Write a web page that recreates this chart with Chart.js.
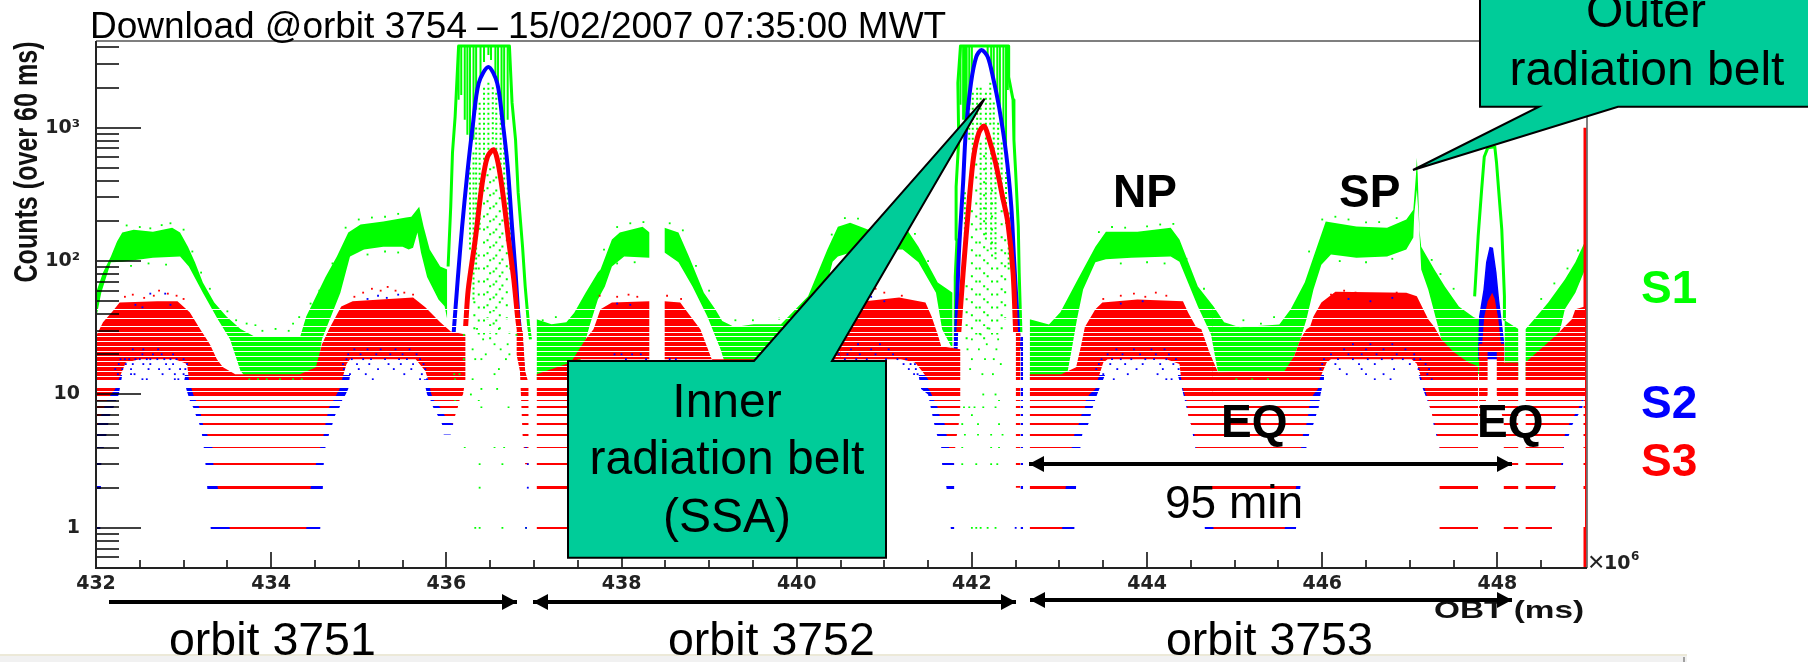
<!DOCTYPE html>
<html>
<head>
<meta charset="utf-8">
<title>Download @orbit 3754</title>
<script src="https://cdn.jsdelivr.net/npm/chart.js@4/dist/chart.umd.min.js"></script>
<style>
  html, body { margin: 0; padding: 0; background: #fff; }
  canvas { display: block; }
</style>
</head>
<body>
<canvas id="chart" width="1808" height="662"></canvas>
<script>
// axis ticks (OBT in units of 10^6 ms, counts over 60 ms)
const xLabelTicks = [432, 434, 436, 438, 440, 442, 444, 446, 448];
const xMinorTicks = [432.5, 433, 433.5, 434.5, 435, 435.5, 436.5, 437, 437.5, 438.5, 439, 439.5, 440.5, 441, 441.5,
  442.5, 443, 443.5, 444.5, 445, 445.5, 446.5, 447, 447.5, 448.5];
const yLabelTicks = [1, 10, 100, 1000];
const yLabelText = { 1: '1', 10: '10', 100: '10²', 1000: '10³' };
const yMinorTicks = [0.6, 0.7, 0.8, 0.9, 2, 3, 4, 5, 6, 7, 8, 9, 20, 30, 40, 50, 60, 70, 80, 90,
  200, 300, 400, 500, 600, 700, 800, 900, 2000, 3000, 4000];

// counts are integers, so the low part of the plot falls on separate rows
const countRows = [1, 2, 3, 4, 5, 6, 7, 8, 9, 10, 11, 13, 14.2, 15.5, 16.9, 18.4, 20, 21.8, 23.8, 25.9, 28.2, 30.5, 34, 40, 47];

// S1 envelopes, orbit by orbit
const s1Upper1 = [[432, 58], [432.08, 82], [432.17, 108], [432.24, 140], [432.3, 164], [432.43, 172], [432.65, 166], [432.87, 178], [432.96, 164], [433.05, 128], [433.13, 98], [433.22, 69], [433.35, 49], [433.49, 38.5], [433.65, 31], [433.82, 27], [434.33, 27], [434.4, 38.5], [434.62, 76], [434.75, 108], [434.88, 164], [435.02, 188], [435.28, 198], [435.54, 212], [435.6, 215], [435.69, 256], [435.74, 182], [435.81, 122], [435.93, 91], [436.01, 86.5]];
const s1Lower1 = [[432, 36.6], [432.06, 58], [432.17, 98], [432.3, 99], [432.65, 106], [432.96, 108], [433.06, 91], [433.22, 58], [433.39, 36.6], [433.53, 25.9], [433.65, 15], [433.76, 12.3], [434.45, 12.3], [434.53, 15], [434.58, 25.9], [434.67, 36.6], [434.79, 58], [434.9, 108], [435.06, 122], [435.28, 128], [435.5, 128], [435.57, 122], [435.62, 126], [435.67, 164], [435.71, 116], [435.78, 76], [435.91, 51.6], [435.98, 45.8], [436.01, 36.6]];
const s1Upper2 = [[437.03, 36.6], [437.2, 33.6], [437.37, 34.8], [437.46, 41], [437.59, 58], [437.73, 82], [437.76, 86.5], [437.89, 145], [437.98, 164], [438.24, 181], [438.32, 164]];
const s1Lower2 = [[437.03, 12.3], [437.47, 12.3], [437.56, 21.8], [437.64, 33.5], [437.73, 51.6], [437.81, 64.6], [437.89, 91], [438.03, 108], [438.32, 106]];
const s1Upper3 = [[438.49, 178], [438.65, 164], [438.77, 108], [438.94, 58], [439.07, 43.5], [439.15, 35.6], [439.29, 32], [439.51, 33.6], [439.82, 33.6], [440.13, 54.6], [440.35, 122], [440.47, 181], [440.61, 194], [440.82, 172], [441.26, 172], [441.39, 128], [441.61, 69], [441.78, 58]];
const s1Lower3 = [[438.49, 116], [438.65, 98], [438.81, 64.6], [438.98, 38.5], [439.13, 21.8], [439.25, 12.3], [440.05, 12.3], [440.16, 31], [440.3, 51.6], [440.41, 99], [440.47, 108], [440.73, 122], [441.21, 122], [441.39, 98], [441.59, 58], [441.66, 30.8], [441.78, 21.8]];
const s1Upper4 = [[442.66, 36.6], [442.88, 33.5], [443.01, 41.3], [443.19, 69], [443.41, 128], [443.53, 166], [443.89, 166], [444.27, 178], [444.37, 145], [444.58, 64.6], [444.76, 45.7], [444.88, 34.8], [445.06, 31.9], [445.51, 33.5], [445.64, 43.5], [445.8, 69], [445.94, 128], [446.04, 198], [446.39, 182], [446.74, 178], [446.96, 205], [447.04, 243], [447.07, 444], [447.08, 596], [447.09, 444], [447.11, 172], [447.13, 128], [447.28, 86.5], [447.4, 64.6], [447.56, 45.7], [447.73, 38], [447.79, 36.6]];
const s1Lower4 = [[442.66, 12.3], [443.07, 12.3], [443.14, 21.8], [443.2, 36.6], [443.27, 61.3], [443.41, 98], [443.53, 103], [443.82, 106], [444.27, 108], [444.37, 99], [444.58, 45.7], [444.73, 28.2], [444.81, 14.7], [444.94, 12.3], [445.57, 12.3], [445.68, 19.4], [445.75, 25.9], [445.82, 36.6], [445.9, 61.3], [445.99, 94], [446.1, 112], [446.39, 106], [446.74, 108], [446.96, 122], [447.04, 150], [447.05, 222], [447.08, 343], [447.1, 222], [447.13, 86.5], [447.21, 61.3], [447.27, 43.5], [447.36, 25.9], [447.5, 18.4], [447.67, 15], [447.79, 14.2]];
const s1Upper5 = [[448.08, 36], [448.24, 31]];
const s1Lower5 = [[448.08, 13], [448.24, 13]];
const s1Upper6 = [[448.32, 30.8], [448.42, 36.6], [448.58, 49], [448.77, 72.8], [448.89, 98], [449, 140]];
const s1Lower6 = [[448.32, 12.3], [448.59, 14.2], [448.67, 23.8], [448.73, 33.5], [448.77, 43.5], [448.89, 58], [449, 86.5]];

// S1 outline around the three passages through the belts
const s1Edge1 = [[436.02, 91], [436.05, 256], [436.07, 649], [436.1, 1207], [436.14, 4100], [436.72, 4100], [436.75, 1540], [436.79, 811], [436.82, 326], [436.87, 128], [436.9, 64.6], [436.94, 32.4], [436.96, 25.9]];
const s1Edge2 = [[441.81, 25.9], [441.81, 76.5], [441.83, 145], [441.82, 361], [441.85, 811], [441.84, 2167], [441.87, 4100], [442.42, 4100], [442.42, 2400], [442.47, 1617], [442.48, 811], [442.5, 460], [442.53, 181], [442.54, 82], [442.56, 29]];
const s1Edge3 = [[447.74, 54.4], [447.78, 153], [447.82, 343], [447.85, 606], [447.89, 706], [447.97, 720], [447.99, 546], [448.02, 304], [448.05, 172], [448.08, 54.4], [448.08, 36.6]];

// S1 columns that saturate under the peaks: x, low, high
const s1Comb = [[436.14, 1617, 4100], [436.17, 1762, 4100], [436.21, 1146, 4100], [436.24, 885, 4100], [436.27, 575, 4100], [436.31, 811, 4100], [436.34, 1361, 4100], [436.39, 2280, 4100], [436.43, 3110, 4100], [436.48, 3510, 4100], [436.51, 3220, 4100], [436.56, 2490, 4100], [436.59, 1920, 4100], [436.63, 1361, 4100], [436.66, 1052, 4100], [436.7, 1146, 4100],
  [441.87, 1483, 4100], [441.9, 1146, 4100], [441.92, 811, 4100], [441.94, 1361, 4100], [441.97, 1483, 4100], [442, 2490, 4100], [442.18, 3510, 4100], [442.22, 2950, 4100], [442.25, 2280, 4100], [442.29, 1617, 4100], [442.32, 1265, 4100], [442.36, 964, 4100], [442.39, 683, 4100], [442.41, 1920, 4100]];
const s1DenseColumns = [[436.27, 122, 527], [436.31, 51.6, 683], [436.34, 86.5, 1052], [436.38, 172, 1617], [436.43, 484, 2100], [436.48, 683, 2280], [436.53, 750, 2100], [436.57, 683, 1920], [436.62, 484, 1617], [436.66, 289, 964], [436.7, 145, 484], [436.73, 86.5, 243],
  [441.92, 103, 343], [441.97, 811, 1617], [442.01, 484, 1920], [442.06, 964, 2100], [442.1, 1052, 2100], [442.16, 1052, 1920], [442.21, 1052, 2280], [442.25, 630, 1617], [442.3, 484, 1146], [442.34, 289, 811], [442.39, 190, 484], [442.42, 86.5, 243], [442.1, 172, 811], [442.16, 145, 885], [442.22, 122, 750], [442.27, 103, 527]];
const s1SparseColumns = [[436.43, 28.2, 343], [436.47, 36.6, 484], [436.5, 25.9, 527], [436.54, 33.5, 527], [436.57, 28.2, 444], [436.61, 30.8, 343], [436.64, 51.6, 243], [436.37, 28.2, 122], [436.32, 30.8, 51.6], [436.69, 36.6, 145],
  [442.05, 28.2, 575], [442.09, 28.2, 145], [442.14, 25.9, 683], [442.18, 30.8, 122], [442.23, 28.2, 408], [442.29, 28.2, 103], [442.34, 30.8, 289], [442.38, 36.6, 172], [442, 30.8, 243], [441.94, 25.9, 72.8]];
const s1Dots = [[433.6, 36], [433.72, 34], [433.82, 33], [433.9, 30], [434.05, 31], [434.2, 30], [434.25, 34], [434.32, 38], [433.5, 42], [437.1, 36], [437.25, 38], [439.3, 36], [439.5, 36], [439.8, 37], [445.1, 36], [445.3, 34], [445.45, 38],
  [432.35, 185], [432.5, 180], [432.62, 176], [432.75, 186], [432.85, 192], [433, 172], [432.4, 92], [432.6, 96], [432.8, 94], [433.1, 118], [433.2, 82], [433.3, 62],
  [434.7, 96], [434.85, 178], [435, 205], [435.15, 212], [435.3, 215], [435.45, 226], [435.1, 112], [435.3, 118], [435.45, 116], [434.55, 60], [434.45, 48],
  [437.8, 122], [437.95, 180], [438.1, 192], [438.25, 196], [438.55, 192], [438.7, 170], [438.85, 92], [439, 60], [437.95, 96], [438.15, 98],
  [440.4, 158], [440.55, 210], [440.7, 208], [441, 185], [441.2, 186], [441.35, 160], [441.5, 100], [440.9, 112], [441.1, 114],
  [443.45, 165], [443.6, 180], [443.75, 178], [444, 182], [444.15, 188], [444.3, 190], [444.45, 104], [444.65, 62], [443.7, 96], [444, 98], [444.2, 96],
  [445.85, 118], [446, 205], [446.15, 215], [446.3, 205], [446.5, 195], [446.65, 196], [446.85, 210], [446.2, 100], [446.5, 98], [446.8, 104], [447.25, 102], [447.35, 80], [447.5, 62], [447.3, 50], [447.45, 32],
  [448.5, 52], [448.65, 68], [448.8, 88], [448.92, 120], [448.55, 25], [448.7, 42], [448.85, 56],
  [433.75, 13], [433.85, 13], [433.95, 13], [434.1, 13], [434.25, 13], [434.35, 13], [445.02, 13], [445.2, 13], [445.38, 13],
  [436.2, 28], [436.35, 31], [436.5, 29], [436.6, 31], [436.72, 29], [436.8, 28], [436.42, 25.9], [436.55, 23.8], [436.7, 23.8], [436.3, 21.8], [436.45, 20], [436.62, 21.8], [436.72, 20], [436.2, 18.4], [436.33, 18.4], [436.4, 18.4], [436.68, 18.4], [436.09, 14.2], [436.15, 14.2], [436.55, 14.2], [436.6, 15.5], [436.1, 13], [436.3, 13], [436.4, 11], [436.58, 11], [436.28, 10], [436.1, 9], [436.37, 9], [436.4, 8], [436.71, 8], [436.21, 4], [436.55, 4], [436.66, 4], [436.38, 3], [436.64, 3], [436.38, 2], [436.33, 1], [436.38, 1], [436.64, 1], [436.91, 1],
  [441.89, 4], [442.22, 4], [442.31, 4], [441.92, 5], [442.07, 5], [442.22, 5], [442.35, 5], [441.89, 6], [442.07, 6], [442.31, 6], [442, 7], [441.91, 8], [441.97, 8], [442.03, 8], [442.13, 8], [442.27, 8], [442.31, 9], [442.13, 10], [442.27, 10], [441.89, 3], [442.05, 3], [442.22, 3], [442.29, 3], [442, 1], [442.05, 1], [442.1, 1], [442.18, 1], [442.27, 1],
  [442, 25.9], [442.1, 28.2], [442.2, 31.2], [442.3, 25.9], [441.95, 21.8], [442.08, 21.8], [442.17, 23.8], [442.28, 21.8], [442, 18.4], [442.15, 18.4], [442.25, 18.4], [442.33, 16.9], [441.98, 15.5], [442.12, 14.2], [442.24, 14.2]];

// S2 peaks
const s2Peak1 = [[436.08, 27], [436.13, 72.8], [436.18, 181], [436.24, 460], [436.3, 1016], [436.37, 2167], [436.48, 2857], [436.58, 2167], [436.64, 1146], [436.7, 510], [436.75, 181], [436.79, 82], [436.82, 41.3], [436.85, 25.9], [436.87, 16]];
const s2Peak2 = [[441.81, 18], [441.85, 108], [441.9, 387], [441.93, 916], [441.99, 2167], [442.05, 3400], [442.11, 3826], [442.18, 3400], [442.24, 2400], [442.31, 1430], [442.39, 649], [442.45, 256], [442.48, 108], [442.51, 49], [442.54, 22]];
const s2BlobUpper = [[447.78, 23.8], [447.79, 38.5], [447.84, 61.3], [447.87, 98], [447.91, 128], [447.95, 126], [447.99, 82], [448.02, 51.6], [448.07, 27.3], [448.08, 23.8]];
const s2BlobLower = [[447.78, 18.4], [448.08, 18.4]];

// S2 rows that reach a little past S3 at the edges of each trough
const s2Trough1Upper = [[433.01, 14], [434.9, 14]];
const s2Trough1Lower = [[433.01, 14], [433.03, 11], [433.05, 10], [433.07, 9], [433.11, 8], [433.14, 7], [433.18, 6], [433.21, 5], [433.23, 4], [433.25, 3], [433.27, 2], [433.31, 0.98], [434.56, 0.98], [434.59, 2], [434.6, 3], [434.62, 4], [434.66, 5], [434.7, 6], [434.73, 7], [434.78, 8], [434.81, 9], [434.85, 10], [434.88, 11], [434.9, 14]];
const s2StartUpper = [[432, 14], [432.3, 14]];
const s2StartLower = [[432, 0.98], [432.05, 0.98], [432.06, 3], [432.09, 4], [432.12, 5], [432.14, 6], [432.16, 7], [432.2, 8], [432.23, 9], [432.26, 10], [432.3, 14]];
const s2Hump2Upper = [[435.74, 13], [436.08, 13]];
const s2Hump2Lower = [[435.74, 13], [435.78, 10], [435.82, 9], [435.85, 8], [435.9, 7], [435.95, 6], [435.97, 5], [436.05, 5], [436.08, 6]];
const s2Trough2Upper = [[441.39, 14], [441.8, 14]];
const s2Trough2Lower = [[441.39, 14], [441.42, 11], [441.5, 10], [441.53, 8], [441.57, 6], [441.6, 5], [441.65, 4], [441.66, 3], [441.71, 2], [441.76, 0.98], [441.8, 0.98]];
const s2FootUpper = [[442.555, 27], [442.585, 27]];
const s2FootLower = [[442.555, 0.98], [442.585, 0.98]];
const s2Rise3Upper = [[443, 14], [443.52, 14]];
const s2Rise3Lower = [[443, 0.98], [443.17, 0.98], [443.2, 3], [443.24, 4], [443.26, 5], [443.33, 6], [443.38, 8], [443.43, 10], [443.52, 14]];
const s2Trough3Upper = [[444.35, 14], [446.02, 14]];
const s2Trough3Lower = [[444.35, 14], [444.4, 11], [444.45, 8], [444.5, 6], [444.55, 4], [444.58, 3], [444.62, 2], [444.66, 0.98], [445.7, 0.98], [445.75, 2], [445.78, 3], [445.82, 4], [445.85, 5], [445.9, 6], [445.93, 7], [445.96, 8], [445.98, 10], [446.02, 13]];
const s2Fall4Upper = [[447.1, 14], [447.62, 14]];
const s2Fall4Lower = [[447.1, 14], [447.15, 11], [447.2, 9], [447.23, 8], [447.26, 7], [447.27, 6], [447.3, 5], [447.34, 4], [447.36, 3], [447.36, 0.98], [447.62, 0.98]];
const s2EndUpper = [[448.58, 14], [449, 14]];
const s2EndLower = [[448.58, 0.98], [448.62, 0.98], [448.66, 2], [448.75, 3], [448.76, 4], [448.82, 5], [448.86, 6], [448.92, 7], [448.97, 8], [449, 10]];

// sparse S2 counts: one row each, then the x where a point shows
const s2RowDots = [
  [23.8, [440.5, 440.7, 440.95, 446.35, 446.55, 446.8]],
  [21.8, [432.42, 432.54, 432.71, 434.95, 435.1, 435.25, 435.42, 435.58, 440.45, 440.62, 440.85, 441.05, 443.65, 443.85, 444.05, 444.2, 446.25, 446.5, 446.7, 446.95]],
  [20, [432.53, 432.65, 432.75, 432.88, 434.88, 435.02, 435.2, 435.36, 435.5, 435.66, 437.92, 438, 438.12, 438.22, 440.48, 440.58, 440.72, 440.9, 441.1, 443.55, 443.72, 443.92, 444.1, 444.25, 446.1, 446.3, 446.45, 446.62, 446.85, 447.05]],
  [18.4, [432.28, 432.33, 432.38, 432.45, 432.5, 432.58, 432.62, 432.7, 432.78, 432.85, 432.92, 433, 434.86, 434.92, 435.05, 435.14, 435.3, 435.46, 435.55, 435.7, 438.05, 438.28, 438.55, 438.62, 440.42, 440.55, 440.68, 440.8, 441.02, 441.15, 441.25, 443.48, 443.6, 443.7, 443.82, 443.98, 444.08, 444.22, 444.33, 446.02, 446.18, 446.35, 446.52, 446.68, 446.8, 446.92, 447.05, 447.12]],
  [16.9, [432.26, 432.34, 432.42, 432.54, 432.62, 432.8, 432.88, 433.04, 434.82, 434.98, 435.12, 435.34, 435.48, 435.62, 435.74, 441.22, 441.3, 441.35, 443.45, 443.58, 443.75, 443.95, 444.15, 444.3, 446, 446.15, 446.42, 446.6, 447, 447.18]],
  [15.5, [432.22, 432.3, 432.4, 432.6, 432.72, 432.84, 432.96, 433.02, 434.83, 435, 435.22, 435.4, 435.6, 435.76, 441.28, 441.36, 443.42, 443.66, 443.88, 444.18, 444.36, 445.98, 446.2, 446.45, 446.82, 447.1, 447.22]],
  [14.2, [432.25, 432.4, 432.44, 432.76, 432.9, 433, 434.9, 435.08, 435.52, 435.72, 441.38, 441.34, 443.5, 443.78, 444.12, 446.28, 446.5, 446.7, 447.2]],
  [13, [432.53, 432.58, 432.9, 432.94, 433.02, 435.16, 435.7, 435.78, 441.42, 444.22, 444.28, 443.62, 446.6, 446.78, 447.25]],
  [4, [436.91]], [3, [436.93]], [2, [436.93]], [1, [436.91, 442.5]]
];
const s2Dots = [[432.62, 57], [432.79, 57], [432.45, 47], [432.53, 45], [432.85, 47], [435.1, 52], [435.22, 55], [435.32, 53], [435.45, 56], [437.95, 48], [438.1, 47], [440.85, 54], [441, 50], [443.7, 48], [443.95, 50], [446.3, 52], [446.55, 50], [446.8, 53]];

// S3 peaks
const s3Peak1 = [[436.22, 32.4], [436.25, 61.3], [436.33, 145], [436.41, 387], [436.47, 606], [436.54, 683], [436.59, 546], [436.65, 304], [436.71, 145], [436.77, 72.8], [436.82, 34.8], [436.85, 25.9]];
const s3Peak2 = [[441.85, 29], [441.9, 82], [441.97, 289], [442.02, 606], [442.08, 916], [442.14, 1030], [442.19, 850], [442.27, 546], [442.35, 304], [442.41, 195], [442.47, 82], [442.5, 29]];

// S3 envelopes
const s3Upper1 = [[432, 27.3], [432.08, 34.8], [432.19, 42], [432.27, 49], [432.7, 49.9], [432.93, 50], [433.07, 41.3], [433.19, 30.8], [433.3, 23.8], [433.38, 18.4], [433.45, 16], [433.59, 14.2], [434.33, 14.2], [434.51, 16], [434.58, 23.8], [434.66, 30.8], [434.8, 45.7], [434.93, 50], [435.62, 53.4], [435.76, 45], [435.93, 34.8], [436.05, 29.7], [436.22, 28.2]];
const s3Lower1 = [[432, 5.5], [432.13, 9.2], [432.22, 11], [432.26, 13], [432.34, 17.4], [432.5, 18.4], [432.9, 18.4], [433.04, 16.9], [433.06, 13], [433.11, 10], [433.18, 8], [433.22, 6], [433.27, 5], [433.33, 4], [433.34, 3], [433.39, 2], [433.53, 0.98], [434.4, 0.98], [434.45, 2], [434.51, 3], [434.56, 4], [434.6, 5], [434.62, 6], [434.66, 8], [434.71, 9], [434.78, 11], [434.81, 13], [434.86, 16.9], [434.9, 18.4], [435.65, 18.4], [435.76, 15], [435.79, 13], [435.83, 10], [435.86, 9], [435.93, 8], [435.98, 7], [436.07, 6], [436.13, 8], [436.15, 9], [436.19, 10], [436.22, 13]];
const s3FootUpper1 = [[436.8, 30], [436.87, 30], [436.9, 15], [436.94, 12]];
const s3FootLower1 = [[436.8, 20], [436.84, 15], [436.87, 5], [436.9, 3], [436.94, 3]];
const s3Upper2 = [[437.03, 14.2], [437.42, 17.4], [437.59, 25.9], [437.68, 30.8], [437.76, 43.5], [437.89, 49], [438.32, 50]];
const s3Lower2 = [[437.03, 0.98], [437.45, 0.98], [437.5, 18.4], [438.32, 18.4]];
const s3Upper3 = [[438.49, 50], [438.67, 49], [438.77, 40], [438.9, 30.8], [439.03, 18.4], [439.13, 15], [440.05, 15], [440.39, 23.8], [440.64, 38.5], [440.78, 50], [441.17, 53.4], [441.47, 49], [441.54, 38.5], [441.61, 28.2], [441.65, 23], [441.87, 21.8]];
const s3Lower3 = [[438.49, 18.4], [441.19, 18.4], [441.35, 17.4], [441.43, 15], [441.5, 13], [441.51, 11], [441.54, 10], [441.57, 9], [441.61, 8], [441.63, 7], [441.69, 6], [441.71, 5], [441.74, 4], [441.79, 3], [441.82, 4.6], [441.85, 6], [441.87, 8]];
const s3FootUpper2 = [[442.5, 29], [442.555, 29]];
const s3FootLower2 = [[442.5, 2], [442.555, 2]];
const s3Upper4 = [[442.66, 14.2], [443.02, 14.2], [443.19, 16], [443.25, 23.8], [443.29, 32], [443.41, 43.5], [443.49, 49], [443.89, 51.6], [444.41, 50], [444.47, 41], [444.56, 32], [444.62, 30.8], [444.71, 20.8], [444.81, 14.7], [445.57, 15], [445.68, 19.4], [445.75, 25.9], [445.82, 30.8], [445.86, 32], [445.9, 38.5], [445.99, 49], [446.15, 59], [446.96, 58], [447.08, 54.4], [447.21, 36.6], [447.28, 32], [447.36, 25.9], [447.5, 20.8], [447.67, 17.4], [447.78, 16.3]];
const s3Lower4 = [[442.66, 0.98], [443.03, 0.98], [443.07, 2], [443.12, 3], [443.14, 4], [443.17, 5], [443.22, 6], [443.25, 7], [443.29, 8], [443.3, 9], [443.34, 10], [443.41, 11], [443.44, 13], [443.5, 17.4], [443.55, 18.4], [444.22, 18.4], [444.37, 16.9], [444.39, 13], [444.41, 11], [444.45, 9], [444.47, 7], [444.5, 6], [444.54, 5], [444.56, 4], [444.58, 3], [444.67, 2], [444.76, 0.98], [445.57, 0.98], [445.7, 2], [445.73, 3], [445.76, 4], [445.78, 5], [445.82, 6], [445.84, 7], [445.85, 8], [445.86, 9], [445.9, 10], [445.95, 11], [445.97, 13], [446.05, 17.4], [446.1, 18.4], [447.02, 18.4], [447.08, 17], [447.17, 11], [447.21, 9], [447.23, 8], [447.27, 6.5], [447.31, 5], [447.34, 4], [447.34, 0.98], [447.78, 0.98]];
const s3CapUpper = [[447.82, 21], [447.85, 38.5], [447.89, 50], [447.94, 58], [447.97, 52], [448.01, 36.6], [448.05, 21]];
const s3CapLower = [[447.82, 21], [448.05, 21]];
const s3LegLeftUpper = [[447.79, 24], [447.89, 24]];
const s3LegLeftLower = [[447.79, 6], [447.89, 10]];
const s3LegRightUpper = [[447.99, 24], [448.08, 24]];
const s3LegRightLower = [[447.99, 10], [448.08, 6]];
const s3Upper5 = [[448.07, 17.4], [448.24, 17.4]];
const s3Lower5 = [[448.07, 0.98], [448.24, 0.98]];
const s3Upper6 = [[448.32, 17.4], [448.58, 24.6], [448.7, 29], [448.77, 32.4], [448.85, 36.6], [448.89, 43.5], [449, 45.7]];
const s3Lower6 = [[448.32, 0.98], [448.62, 0.98], [448.65, 2], [448.73, 3], [448.77, 5], [448.82, 6], [448.88, 7], [448.93, 8], [448.96, 9], [448.99, 10], [449, 13]];
const s3RightEdge = [[449, 0.5], [449, 1000]];
const s3Dots = [[432.33, 54], [432.42, 56], [432.55, 53], [432.66, 55], [432.72, 60], [432.82, 57], [432.92, 55], [433, 52], [434.95, 54], [435.05, 58], [435.15, 62], [435.25, 60], [435.33, 64], [435.42, 60], [435.52, 58], [435.62, 56], [437.75, 55], [437.95, 54], [438.08, 56], [438.18, 54], [438.52, 55], [438.68, 52], [440.6, 56], [440.75, 60], [440.9, 62], [441, 58], [441.2, 55], [443.5, 52], [443.7, 55], [443.85, 57], [443.98, 54], [444.1, 58], [444.22, 55], [446.1, 56], [446.25, 60], [446.38, 58], [446.5, 56], [446.68, 54], [446.85, 58]];

const green = '#00ff00';
const blue = '#0000ff';
const red = '#ff0000';
const calloutGreen = '#00cc99';
const sansFont = '"Liberation Sans", Arial, sans-serif';
const tickFont = '"DejaVu Sans", sans-serif';

const points = rows => rows.map(([x, y]) => ({ x, y }));
const columns = rows => rows.flatMap(([x, low, high]) => [{ x, y: low }, { x, y: high }, { x, y: null }]);
const rowPoints = rows => rows.flatMap(([y, xs]) => xs.map(x => ({ x, y })));

const datasets = [];

// lower edge plus an upper edge that fills down to it
function addBand(upper, lower, color, order) {
  datasets.push({ data: points(lower), order, borderWidth: 0, pointRadius: 0, fill: false });
  datasets.push({ data: points(upper), order, borderWidth: 0, pointRadius: 0, fill: '-1', backgroundColor: color });
}

function addLine(data, color, width, order, extra) {
  datasets.push(Object.assign({ data, order, borderColor: color, borderWidth: width, pointRadius: 0, fill: false, spanGaps: false }, extra));
}

function addDots(data, color, order) {
  datasets.push({ data, order, showLine: false, pointStyle: 'rect', pointRadius: 1.3, pointBackgroundColor: color, pointBorderWidth: 0 });
}

[[s1Upper1, s1Lower1], [s1Upper2, s1Lower2], [s1Upper3, s1Lower3], [s1Upper4, s1Lower4], [s1Upper5, s1Lower5], [s1Upper6, s1Lower6]]
  .forEach(([up, low]) => addBand(up, low, green, 6));
[s1Edge1, s1Edge2, s1Edge3].forEach(edge => addLine(points(edge), green, 3, 6));
addLine(columns(s1Comb), green, 2, 6);
addLine(columns(s1DenseColumns), green, 2, 6, { borderDash: [2, 3] });
addLine(columns(s1SparseColumns), green, 2, 6, { borderDash: [2, 11] });

[[s2Trough1Upper, s2Trough1Lower], [s2StartUpper, s2StartLower], [s2Hump2Upper, s2Hump2Lower], [s2Trough2Upper, s2Trough2Lower], [s2FootUpper, s2FootLower],
  [s2Rise3Upper, s2Rise3Lower], [s2Trough3Upper, s2Trough3Lower], [s2Fall4Upper, s2Fall4Lower], [s2EndUpper, s2EndLower], [s2BlobUpper, s2BlobLower]]
  .forEach(([up, low]) => addBand(up, low, blue, 5));
[s2Peak1, s2Peak2].forEach(peak => addLine(points(peak), blue, 4, 4, { tension: 0.3 }));

[[s3Upper1, s3Lower1], [s3FootUpper1, s3FootLower1], [s3Upper2, s3Lower2], [s3Upper3, s3Lower3], [s3FootUpper2, s3FootLower2], [s3Upper4, s3Lower4],
  [s3CapUpper, s3CapLower], [s3LegLeftUpper, s3LegLeftLower], [s3LegRightUpper, s3LegRightLower], [s3Upper5, s3Lower5], [s3Upper6, s3Lower6]]
  .forEach(([up, low]) => addBand(up, low, red, 3));
[s3Peak1, s3Peak2].forEach(peak => addLine(points(peak), red, 5, 2, { tension: 0.3 }));
addLine(points(s3RightEdge), red, 3, 2, { clip: false });

addDots(points(s1Dots), green, 1);
addDots(points(s3Dots), red, 1);
addDots(points(s2Dots).concat(rowPoints(s2RowDots)), blue, 0);

function text(ctx, str, x, y, font, color, align, stretch) {
  ctx.save();
  ctx.font = font;
  ctx.fillStyle = color || '#000';
  ctx.textAlign = align || 'left';
  ctx.textBaseline = 'alphabetic';
  ctx.translate(x, y);
  ctx.scale(stretch || 1, 1);
  ctx.fillText(str, 0, 0);
  ctx.restore();
}

function arrow(ctx, x1, x2, y, head) {
  ctx.strokeStyle = '#000';
  ctx.fillStyle = '#000';
  ctx.lineWidth = 4;
  ctx.beginPath();
  ctx.moveTo(x1, y);
  ctx.lineTo(x2, y);
  ctx.stroke();
  if (head !== 'left') {
    const tip = Math.max(x1, x2);
    ctx.beginPath();
    ctx.moveTo(tip, y);
    ctx.lineTo(tip - 15, y - 8);
    ctx.lineTo(tip - 15, y + 8);
    ctx.closePath();
    ctx.fill();
  }
  if (head !== 'right') {
    const tip = Math.min(x1, x2);
    ctx.beginPath();
    ctx.moveTo(tip, y);
    ctx.lineTo(tip + 15, y - 8);
    ctx.lineTo(tip + 15, y + 8);
    ctx.closePath();
    ctx.fill();
  }
}

function callout(ctx, path) {
  ctx.beginPath();
  path.forEach(([x, y], i) => (i ? ctx.lineTo(x, y) : ctx.moveTo(x, y)));
  ctx.closePath();
  ctx.fillStyle = calloutGreen;
  ctx.fill();
  ctx.strokeStyle = '#000';
  ctx.lineWidth = 2;
  ctx.stroke();
}

// the window strip along the bottom of the screenshot
const backgroundPlugin = {
  id: 'background',
  beforeDraw(chart) {
    const ctx = chart.ctx;
    ctx.fillStyle = '#f1f1f1';
    ctx.fillRect(0, 654, 1687, 8);
    ctx.fillStyle = '#ece9d8';
    ctx.fillRect(0, 654, 1687, 2);
    ctx.fillStyle = '#a0a0a0';
    ctx.fillRect(1683, 657, 2, 5);
  }
};

// ROOT style frame: ticks point into the plot, two lengths
const framePlugin = {
  id: 'frame',
  afterDraw(chart) {
    const ctx = chart.ctx;
    const { left, right, top, bottom } = chart.chartArea;
    const x = chart.scales.x;
    const y = chart.scales.y;

    ctx.save();
    ctx.strokeStyle = '#000';
    ctx.lineWidth = 1.5;
    const tick = (x1, y1, x2, y2) => {
      ctx.beginPath();
      ctx.moveTo(x1, y1);
      ctx.lineTo(x2, y2);
      ctx.stroke();
    };
    yMinorTicks.forEach(v => { const p = Math.round(y.getPixelForValue(v)); tick(left, p, left + 23, p); });
    yLabelTicks.forEach(v => { const p = Math.round(y.getPixelForValue(v)); tick(left, p, left + 45, p); });
    xMinorTicks.forEach(v => { const p = Math.round(x.getPixelForValue(v)); tick(p, bottom, p, bottom - 8); });
    xLabelTicks.forEach(v => { const p = Math.round(x.getPixelForValue(v)); tick(p, bottom, p, bottom - 16); });

    ctx.strokeStyle = '#555';
    ctx.lineWidth = 1.5;
    tick(left, top, right + 2, top);
    tick(right + 2, top, right + 2, bottom);
    ctx.strokeStyle = '#222';
    ctx.lineWidth = 2;
    tick(left, top, left, bottom + 1);
    tick(left, bottom, right + 2, bottom);
    ctx.restore();

    // axis captions
    ctx.save();
    ctx.translate(37, 162);
    ctx.rotate(-Math.PI / 2);
    text(ctx, 'Counts (over 60 ms)', 0, 0, 'bold 33px ' + sansFont, '#111', 'center', 0.76);
    ctx.restore();
    text(ctx, 'OBT (ms)', 1434, 618, 'bold 24px ' + sansFont, '#111', 'left', 1.39);
    text(ctx, '×', 1588, 571, '28px ' + sansFont, '#222');
    text(ctx, '10', 1604, 569, 'bold 19px ' + tickFont, '#222');
    text(ctx, '6', 1631, 560, 'bold 12px ' + tickFont, '#222');

    // annotations pasted over the plot
    ctx.save();
    text(ctx, 'Download @orbit 3754 – 15/02/2007 07:35:00 MWT', 90, 38, '37px ' + sansFont);

    callout(ctx, [[568, 361], [754, 361], [984.6, 98.7], [832, 361], [886, 361], [886, 557.7], [568, 557.7]]);
    text(ctx, 'Inner', 727, 417, '48px ' + sansFont, '#000', 'center');
    text(ctx, 'radiation belt', 727, 474, '48px ' + sansFont, '#000', 'center');
    text(ctx, '(SSA)', 727, 532, '48px ' + sansFont, '#000', 'center');

    callout(ctx, [[1480, -5], [1480, 106.7], [1539, 106.7], [1413, 170], [1618, 106.7], [1815, 106.7], [1815, -5]]);
    text(ctx, 'Outer', 1646, 27, '48px ' + sansFont, '#000', 'center');
    text(ctx, 'radiation belt', 1647, 85, '48px ' + sansFont, '#000', 'center');

    const bold = 'bold 46px ' + sansFont;
    text(ctx, 'NP', 1113, 207, bold);
    text(ctx, 'SP', 1339, 207, bold);
    text(ctx, 'EQ', 1221, 437, bold);
    text(ctx, 'EQ', 1477, 437, bold);
    text(ctx, 'S1', 1641, 303, bold, green);
    text(ctx, 'S2', 1641, 418, bold, blue);
    text(ctx, 'S3', 1641, 476, bold, red);

    arrow(ctx, 1029, 1512, 464, 'both');
    text(ctx, '95 min', 1165, 518, '46px ' + sansFont);
    arrow(ctx, 109, 517, 602, 'right');
    arrow(ctx, 533, 1016, 602, 'both');
    arrow(ctx, 1030, 1512, 600, 'both');
    text(ctx, 'orbit 3751', 169, 655, '46.5px ' + sansFont);
    text(ctx, 'orbit 3752', 668, 655, '46.5px ' + sansFont);
    text(ctx, 'orbit 3753', 1166, 655, '46.5px ' + sansFont);
    ctx.restore();
  }
};

new Chart(document.getElementById('chart'), {
  type: 'line',
  data: { datasets },
  plugins: [backgroundPlugin, framePlugin],
  options: {
    responsive: false,
    animation: false,
    events: [],
    layout: { padding: { top: 41, right: 223, left: 0, bottom: 0 } },
    plugins: { legend: { display: false }, title: { display: false }, tooltip: { enabled: false } },
    elements: { line: { borderJoinStyle: 'round' } },
    scales: {
      x: {
        type: 'linear',
        min: 432,
        max: 449,
        grid: { display: false, drawTicks: false },
        border: { display: false },
        afterBuildTicks: scale => { scale.ticks = xLabelTicks.map(value => ({ value })); },
        afterFit: scale => { scale.height = 94; },
        ticks: {
          autoSkip: false,
          maxRotation: 0,
          padding: 5,
          color: '#222',
          font: { family: tickFont, weight: 'bold', size: 19 },
          callback: value => String(value)
        }
      },
      y: {
        type: 'logarithmic',
        position: 'left',
        min: 0.5,
        max: 4467,
        grid: { display: false, drawTicks: false },
        border: { display: false },
        afterBuildTicks: scale => { scale.ticks = yLabelTicks.map(value => ({ value })); },
        afterFit: scale => { scale.width = 96; },
        ticks: {
          autoSkip: false,
          padding: 16,
          color: '#222',
          font: { family: tickFont, weight: 'bold', size: 19 },
          callback: value => yLabelText[value]
        }
      },
      // the white gaps between count rows, drawn over the datasets
      rows: {
        type: 'logarithmic',
        position: 'right',
        min: 0.5,
        max: 4467,
        border: { display: false },
        afterBuildTicks: scale => {
          scale.ticks = countRows.slice(1).map((high, i) => ({ value: Math.sqrt(countRows[i] * high), low: countRows[i], high }));
        },
        afterFit: scale => { scale.width = 0; },
        ticks: { display: false },
        grid: {
          z: 1,
          drawTicks: false,
          color: '#fff',
          lineWidth: ctx => {
            if (!ctx.tick) return 0;
            const gap = ctx.scale.getPixelForValue(ctx.tick.low) - ctx.scale.getPixelForValue(ctx.tick.high);
            return ctx.tick.high <= 13 && gap > 6 ? Math.round(gap - 2) : 1;
          }
        }
      }
    }
  }
});
</script>
</body>
</html>
